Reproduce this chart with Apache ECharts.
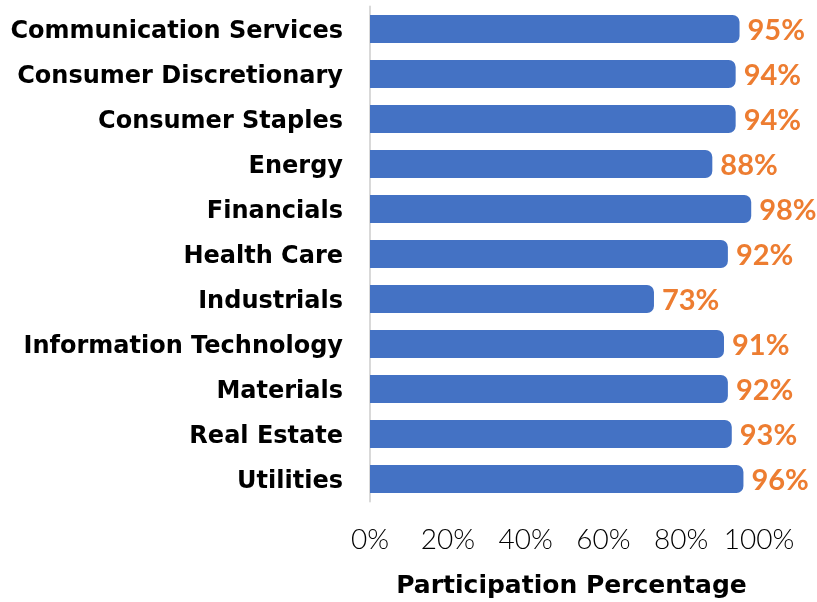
<!DOCTYPE html>
<html>
<head>
<meta charset="utf-8">
<script src="https://cdn.jsdelivr.net/npm/echarts@6/dist/echarts.min.js"></script>
<style>
  html, body { margin: 0; padding: 0; background: #fff; }
  #chart { width: 817px; height: 602px; }
</style>
</head>
<body>
<div id="chart"></div>
<script>
const categories = [
  'Communication Services',
  'Consumer Discretionary',
  'Consumer Staples',
  'Energy',
  'Financials',
  'Health Care',
  'Industrials',
  'Information Technology',
  'Materials',
  'Real Estate',
  'Utilities'
]
const participation = [95, 94, 94, 88, 98, 92, 73, 91, 92, 93, 96]
const axisTitle = 'Participation Percentage'

const chart = echarts.init(document.getElementById('chart'))

const option = {
  animation: false,
  grid: {
    left: 370,
    right: 58,
    top: 6.5,
    bottom: 100.5,
    containLabel: false,
    outerBoundsMode: 'none'
  },
  xAxis: {
    type: 'value',
    min: 0,
    max: 100,
    interval: 20,
    name: axisTitle,
    nameLocation: 'middle',
    nameGap: 72,
    nameTextStyle: {
      color: '#000',
      fontSize: 25,
      fontWeight: 'bold',
      fontFamily: 'DejaVu Sans',
      padding: [0, 0, 0, 14]
    },
    axisLine: { show: false },
    axisTick: { show: false },
    splitLine: { show: false },
    axisLabel: {
      formatter: '{value}%',
      color: '#000',
      fontSize: 28,
      fontFamily: 'Lato',
      fontWeight: 300,
      margin: 24
    }
  },
  yAxis: {
    type: 'category',
    inverse: true,
    data: categories,
    axisLine: { show: true, lineStyle: { color: '#d9d9d9', width: 2 } },
    axisTick: { show: false },
    axisLabel: {
      margin: 27,
      // empty spacer line on top nudges the name down a little
      formatter: v => '{s| }\n{t|' + v + '}',
      rich: {
        s: { fontSize: 6, lineHeight: 6 },
        t: {
          color: '#000',
          fontSize: 24,
          lineHeight: 28,
          fontWeight: 'bold',
          fontFamily: 'DejaVu Sans'
        }
      }
    }
  },
  series: [
    {
      type: 'bar',
      data: participation,
      barWidth: 28,
      itemStyle: {
        color: '#4472C4',
        borderRadius: [0, 7, 7, 0]
      },
      label: {
        show: true,
        position: 'right',
        distance: 8,
        offset: [0, 2],
        formatter: '{c}%',
        color: '#ED7D31',
        fontSize: 29,
        fontWeight: 'bold',
        fontFamily: 'Lato'
      }
    }
  ]
}

chart.setOption(option)
</script>
</body>
</html>
